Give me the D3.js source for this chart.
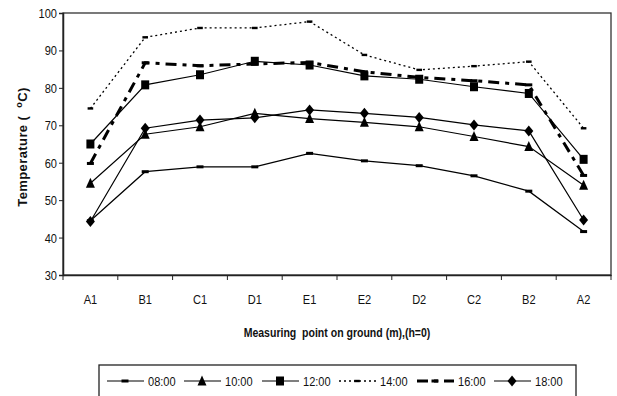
<!DOCTYPE html>
<html><head><meta charset="utf-8">
<script src="https://cdn.jsdelivr.net/npm/d3@7"></script>
<style>
html,body{margin:0;padding:0;background:#fff;}
svg text{font-family:"Liberation Sans",Arial,sans-serif;white-space:pre;}
</style></head>
<body>
<svg id="c" width="617" height="396"></svg>
<script>
const categories = ["A1","B1","C1","D1","E1","E2","D2","C2","B2","A2"];
const s0800 = [44.5,57.6,58.9,58.9,62.5,60.5,59.2,56.5,52.4,41.6];
const s1000 = [54.5,67.6,69.6,73.2,71.8,70.8,69.6,67.0,64.3,54.0];
const s1200 = [65.0,80.8,83.5,87.1,86.1,83.2,82.3,80.3,78.5,60.9];
const s1400 = [74.5,93.5,96.0,96.0,97.7,88.8,84.8,85.8,87.0,69.2];
const s1600 = [59.8,86.7,85.9,86.4,86.8,84.3,82.8,81.9,80.8,56.6];
const s1800 = [44.3,69.2,71.4,72.0,74.1,73.2,72.1,70.1,68.5,44.7];
const seriesNames = ["08:00","10:00","12:00","14:00","16:00","18:00"];
const yTicks = [30,40,50,60,70,80,90,100];

const series = [
  {name:seriesNames[0], values:s0800, marker:"dash", width:1.2, dash:null},
  {name:seriesNames[1], values:s1000, marker:"triangle", width:1.2, dash:null},
  {name:seriesNames[2], values:s1200, marker:"square", width:1.2, dash:null},
  {name:seriesNames[3], values:s1400, marker:"dash", width:1.3, dash:"2,3"},
  {name:seriesNames[4], values:s1600, marker:"dash", width:3, dash:"11,6,4,6"},
  {name:seriesNames[5], values:s1800, marker:"diamond", width:1.2, dash:null}
];

const SX = 0.82, FS = 13.5;
const svg = d3.select("#c");
const L=63, T=13, R=611, B=275;
const x = d3.scaleBand().domain(categories).range([L,R]);
const y = d3.scaleLinear().domain([30,100]).range([B,T]);

function narrowText(parent, tx, ty, str, opts){
  opts = opts||{};
  const sx = opts.sx||SX;
  const t = parent.append("text")
    .attr("transform",`translate(${tx},${ty})${opts.rotate?` rotate(${opts.rotate})`:""} scale(${sx},1)`)
    .attr("text-anchor",opts.anchor||"start")
    .attr("font-size",opts.size||FS)
    .attr("font-weight",opts.bold?"bold":"normal")
    .attr("fill","#111");
  if(str!=null) t.text(str);
  return t;
}

// frame
svg.append("rect").attr("x",L).attr("y",T).attr("width",R-L).attr("height",B-T)
  .attr("fill","none").attr("stroke","#333").attr("stroke-width",1.3);

// y axis
const ya = svg.append("g").attr("transform",`translate(${L},0)`)
  .call(d3.axisLeft(y).tickValues(yTicks).tickSize(4).tickFormat(""));
ya.select(".domain").attr("stroke","#222").attr("stroke-width",1.5);
ya.selectAll(".tick line").attr("stroke","#222");
yTicks.forEach(v=>narrowText(svg, L-6, y(v)+5, String(v), {anchor:"end"}));

// x axis: ticks at category boundaries
const xa = svg.append("g").attr("transform",`translate(0,${B})`)
  .call(d3.axisBottom(x).tickSize(0).tickFormat(""));
xa.select(".domain").attr("stroke","#222").attr("stroke-width",1.5);
const bounds = categories.map(c=>x(c)).concat([R]);
svg.append("g").selectAll("line").data(bounds).join("line")
  .attr("x1",d=>d).attr("x2",d=>d).attr("y1",B).attr("y2",B+5)
  .attr("stroke","#222").attr("stroke-width",1);
const cx = c => x(c) + x.bandwidth()/2;
categories.forEach(c=>narrowText(svg, cx(c), 304, c, {anchor:"middle"}));

// axis titles
narrowText(svg, (L+R)/2, 337, "Measuring  point on ground (m),(h=0)", {anchor:"middle", bold:true, sx:0.78});
const yt = narrowText(svg, 27, (T+B)/2+3, null, {anchor:"middle", bold:true, rotate:-90, sx:1, size:13})
  .attr("letter-spacing",0.4);
yt.append("tspan").text("Temperature (  ");
yt.append("tspan").attr("font-size",9).attr("dy",-5).text("o");
yt.append("tspan").attr("dy",5).text("C)");

const line = d3.line().x((d,i)=>cx(categories[i])).y(d=>y(d));

function drawMarker(g, type, px, py, scale){
  const s = scale||1;
  if(type==="dash"){
    g.append("rect").attr("x",px-3.5*s).attr("y",py-1.5*s).attr("width",7*s).attr("height",3*s).attr("fill","#000");
  } else if(type==="square"){
    g.append("rect").attr("x",px-4*s).attr("y",py-4.5*s).attr("width",8*s).attr("height",9*s).attr("fill","#000");
  } else if(type==="triangle"){
    g.append("path").attr("d",`M${px},${py-5.5*s}L${px+4.5*s},${py+4.5*s}L${px-4.5*s},${py+4.5*s}Z`).attr("fill","#000");
  } else if(type==="diamond"){
    g.append("path").attr("d",`M${px},${py-5.5*s}L${px+4.5*s},${py}L${px},${py+5.5*s}L${px-4.5*s},${py}Z`).attr("fill","#000");
  }
}

const plot = svg.append("g");
series.forEach(sr=>{
  const p = plot.append("path").datum(sr.values).attr("d",line)
    .attr("fill","none").attr("stroke","#000").attr("stroke-width",sr.width);
  if(sr.dash) p.attr("stroke-dasharray",sr.dash);
});
series.forEach(sr=>{
  const g = plot.append("g");
  sr.values.forEach((v,i)=>drawMarker(g, sr.marker, cx(categories[i]), y(v), sr.name==="14:00"?0.8:1));
});

// legend
const lg = svg.append("g");
lg.append("rect").attr("x",99).attr("y",365).attr("width",477).attr("height",40)
  .attr("fill","none").attr("stroke","#222").attr("stroke-width",1.3);
const entryX = [107,184,262,339,417,494];
series.forEach((sr,i)=>{
  const x0 = entryX[i], ly = 381;
  const ln = lg.append("line").attr("x1",x0).attr("x2",x0+37).attr("y1",ly).attr("y2",ly)
    .attr("stroke","#000").attr("stroke-width",sr.width);
  if(sr.dash) ln.attr("stroke-dasharray",sr.dash);
  drawMarker(lg, sr.marker, x0+18, ly, sr.name==="14:00"?0.8:1);
  narrowText(lg, x0+41, ly+5, sr.name);
});
</script>
</body></html>
